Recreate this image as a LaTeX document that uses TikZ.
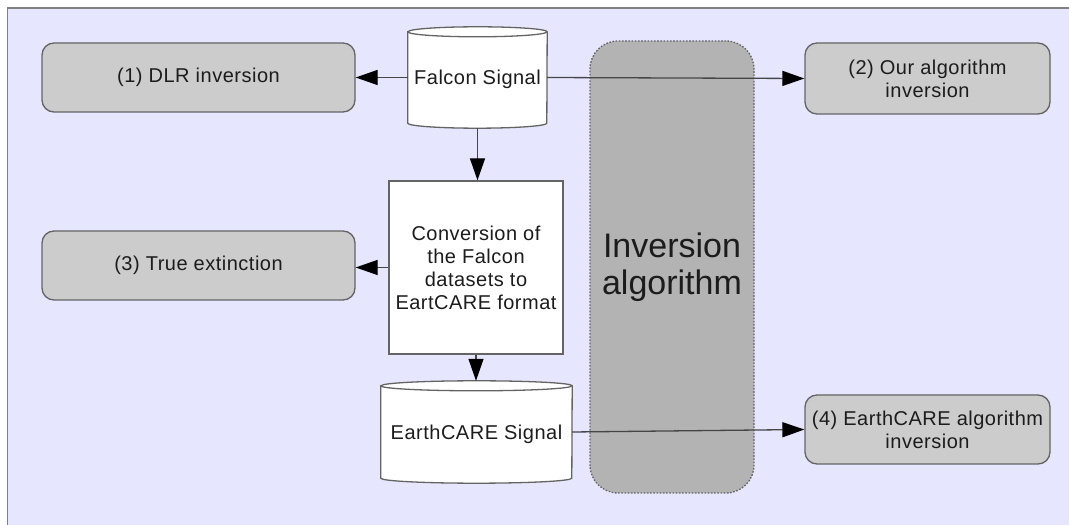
\documentclass[tikz,border=0pt]{standalone}
\usepackage{fontspec}
\setmainfont{Liberation Sans}[LetterSpace=2.5]
\newfontfamily\bigfont{Liberation Sans}
\usetikzlibrary{arrows.meta}
\definecolor{bgcol}{RGB}{230,230,255}
\definecolor{boxgray}{RGB}{204,204,204}
\definecolor{invgray}{RGB}{179,179,179}
\definecolor{edgegray}{RGB}{100,100,100}
\definecolor{framegray}{RGB}{128,128,128}
\definecolor{txt}{RGB}{28,28,28}
\begin{document}
\begin{tikzpicture}[x=1pt,y=1pt,
  lbl/.style={font=\fontsize{20}{23}\selectfont, text=txt, align=center, inner sep=0pt},
  result/.style={lbl, draw=edgegray, line width=1.3pt, fill=boxgray, rounded corners=12pt},
  procbox/.style={lbl, draw=edgegray, line width=1.3pt, fill=white},
  cylnode/.style={lbl},
  cylshape/.style={draw=edgegray, line width=1.3pt, fill=white},
  invbox/.style={draw=edgegray, line width=1.3pt, dash pattern=on 1.6pt off 1.6pt, fill=invgray, rounded corners=28pt,
     font=\bigfont\fontsize{34}{37}\selectfont, text=txt, align=center, inner sep=0pt},
  conn/.style={draw=edgegray!70!black, line width=1.3pt, -{Triangle[length=22pt,width=15pt,color=black]}}
]
\useasboundingbox (0,0) rectangle (1069,525);
\clip (0,0) rectangle (1069,525);
\fill[white] (0,0) rectangle (1069,525);
\draw[draw=framegray, line width=1.5pt, fill=bgcol] (7.5,517) rectangle (1085,-10);

% inversion algorithm band
\node[invbox, minimum width=164pt, minimum height=452pt] (inv) at (672,258) {Inversion\\algorithm};

% result boxes
\node[result, minimum width=313pt, minimum height=69pt] (dlr) at (198.5,447.5) {(1) DLR inversion};
\node[result, minimum width=245pt, minimum height=71pt] (our) at (927.5,446.5) {(2) Our algorithm\\inversion};
\node[result, minimum width=313pt, minimum height=69pt] (true) at (198.5,259.5) {(3) True extinction};
\node[result, minimum width=245pt, minimum height=69pt] (ec) at (927.5,95.5) {(4) EarthCARE algorithm\\inversion};

% conversion box
\node[procbox, minimum width=174pt, minimum height=173pt] (conv) at (476,257.5) {Conversion of\\the Falcon\\datasets to\\EartCARE format};

% Falcon cylinder
\node[cylnode, minimum width=139pt, minimum height=101pt] (fal) at (477.5,447.5) {};
\path[cylshape] ([yshift=-5pt]fal.north west) -- ([yshift=5pt]fal.south west)
  arc[start angle=180,end angle=360,x radius=69.5pt,y radius=5pt]
  -- ([yshift=-5pt]fal.north east)
  arc[start angle=0,end angle=180,x radius=69.5pt,y radius=5pt] -- cycle;
\draw[cylshape, fill=none] ([yshift=-5pt]fal.north west) arc[start angle=180,end angle=360,x radius=69.5pt,y radius=5pt];
\node[lbl] at ([yshift=-2pt]fal.center) {Falcon Signal};

% EarthCARE cylinder
\node[cylnode, minimum width=191pt, minimum height=102pt] (ecs) at (476.5,93) {};
\path[cylshape] ([yshift=-5pt]ecs.north west) -- ([yshift=5pt]ecs.south west)
  arc[start angle=180,end angle=360,x radius=95.5pt,y radius=5pt]
  -- ([yshift=-5pt]ecs.north east)
  arc[start angle=0,end angle=180,x radius=95.5pt,y radius=5pt] -- cycle;
\draw[cylshape, fill=none] ([yshift=-5pt]ecs.north west) arc[start angle=180,end angle=360,x radius=95.5pt,y radius=5pt];
\node[lbl] at ([yshift=-2pt]ecs.center) {EarthCARE Signal};

% connectors
\draw[conn] (fal.west) -- (fal.west -| dlr.east);
\draw[conn] (fal.east) -- (our.west);
\draw[conn] (fal.south) -- (fal.south |- conv.north);
\draw[conn] (conv.west) -- (conv.west -| true.east);
\draw[conn] (conv.south) -- (conv.south |- ecs.north);
\draw[conn] (ecs.east) -- (ec.west);
\end{tikzpicture}
\end{document}
